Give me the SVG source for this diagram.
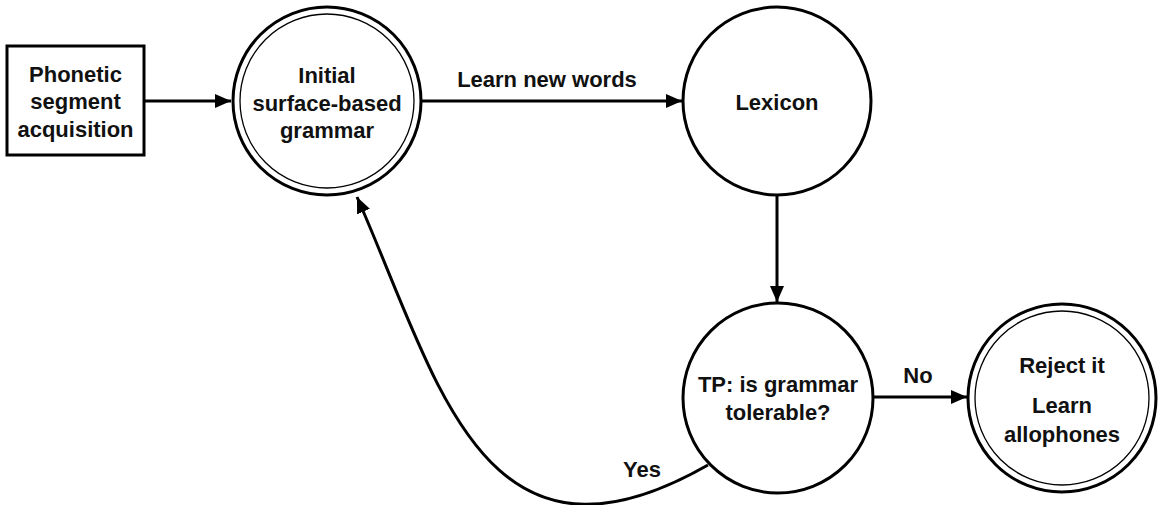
<svg xmlns="http://www.w3.org/2000/svg" width="1160" height="505" viewBox="0 0 1160 505">
  <style>
    .lbl { font-family: "Liberation Sans", Arial, sans-serif; font-weight: bold; font-size: 22px; fill: #111; text-anchor: middle; }
    .node { fill: #fff; stroke: #000; stroke-width: 3; }
    .inner { fill: none; stroke: #000; stroke-width: 1.3; }
    .edge { fill: none; stroke: #000; stroke-width: 3; }
  </style>
  <defs>
    <marker id="arrow" markerUnits="userSpaceOnUse" markerWidth="18" markerHeight="14" refX="16" refY="7" orient="auto">
      <path d="M0,0 L16,7 L0,14 z" fill="#000"/>
    </marker>
  </defs>
  <rect width="1160" height="505" fill="#fff"/>

  <g id="connectors">
    <line class="edge" x1="144" y1="101" x2="231" y2="101" marker-end="url(#arrow)"/>
    <line class="edge" x1="422" y1="101" x2="682" y2="101" marker-end="url(#arrow)"/>
    <text class="lbl" x="547" y="87">Learn new words</text>
    <line class="edge" x1="777" y1="196" x2="777" y2="302" marker-end="url(#arrow)"/>
    <line class="edge" x1="873" y1="397" x2="967" y2="397" marker-end="url(#arrow)"/>
    <text class="lbl" x="918" y="383">No</text>
    <!-- "Yes" loop back from the tolerance check to the initial grammar -->
    <path class="edge" d="M708,465 C482,594 438,380 357,197" marker-end="url(#arrow)"/>
    <text class="lbl" x="642" y="477">Yes</text>
  </g>

  <g id="phonetic-segment">
    <rect class="node" x="7" y="46" width="137" height="109" stroke-width="2"/>
    <text class="lbl" x="75.5" y="82">Phonetic</text>
    <text class="lbl" x="75.5" y="109">segment</text>
    <text class="lbl" x="75.5" y="137">acquisition</text>
  </g>

  <g id="initial-grammar">
    <circle class="node" cx="327" cy="101" r="94"/>
    <circle class="inner" cx="327" cy="101" r="87"/>
    <text class="lbl" x="327" y="83">Initial</text>
    <text class="lbl" x="327" y="111">surface-based</text>
    <text class="lbl" x="327" y="138">grammar</text>
  </g>

  <g id="lexicon">
    <circle class="node" cx="777" cy="101" r="94"/>
    <text class="lbl" x="777" y="110">Lexicon</text>
  </g>

  <g id="tolerance-check">
    <circle class="node" cx="778" cy="398" r="95"/>
    <text class="lbl" x="778" y="392">TP: is grammar</text>
    <text class="lbl" x="778" y="420">tolerable?</text>
  </g>

  <g id="reject">
    <circle class="node" cx="1062" cy="398" r="94"/>
    <circle class="inner" cx="1062" cy="398" r="87"/>
    <text class="lbl" x="1062" y="373">Reject it</text>
    <text class="lbl" x="1062" y="413">Learn</text>
    <text class="lbl" x="1062" y="442">allophones</text>
  </g>
</svg>
